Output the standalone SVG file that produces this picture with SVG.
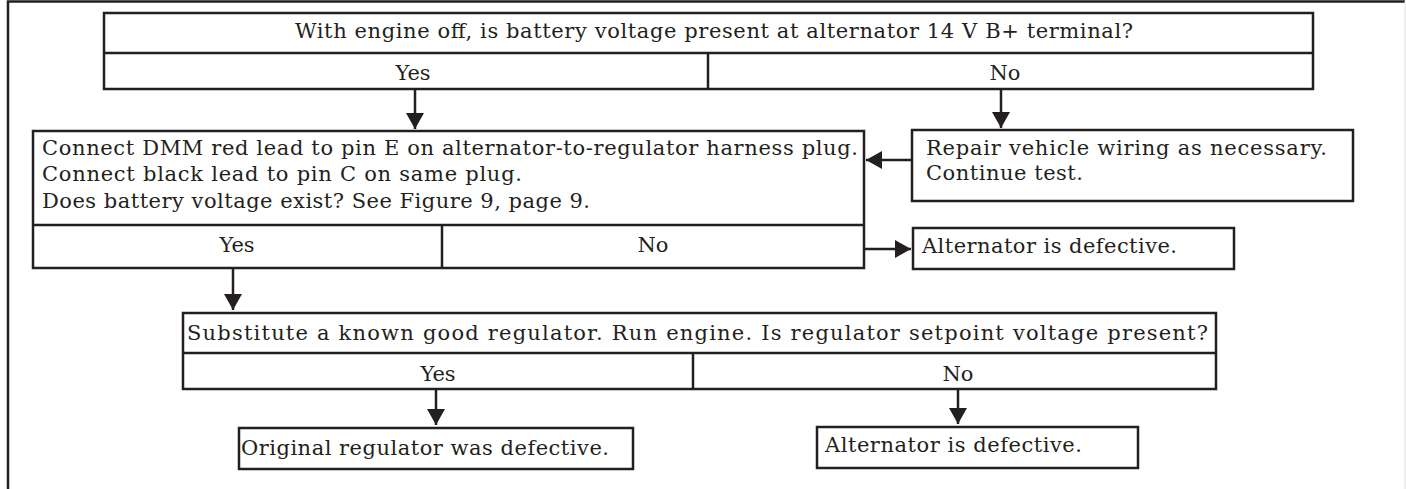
<svg xmlns="http://www.w3.org/2000/svg" width="1406" height="489" viewBox="0 0 1406 489">
<defs>
<style>
.box{fill:#fff;stroke:#231f20;stroke-width:2.5}
.ln{stroke:#231f20;stroke-width:2.5;fill:none}
.t{font-family:"DejaVu Serif","Liberation Serif",serif;font-size:21px;fill:#231f20}
.c{text-anchor:middle}
</style>
<marker id="ah" markerUnits="userSpaceOnUse" markerWidth="20" markerHeight="18" refX="16" refY="9" orient="auto">
<path d="M0,0 L16,9 L0,18 Z" fill="#231f20"/>
</marker>
</defs>
<rect width="1406" height="489" fill="#fff"/>
<g id="frame">
<path d="M8,489 L8,1.5 L1405,1.5" class="ln" stroke-width="2.5"/>
<line x1="1405" y1="1" x2="1405" y2="489" stroke="#ddd" stroke-width="1"/>
</g>
<g id="q1">
<rect x="104" y="13" width="1209" height="76" class="box"/>
<line x1="104" y1="53" x2="1313" y2="53" class="ln"/>
<line x1="708" y1="53" x2="708" y2="89" class="ln"/>
<text x="295" y="38" class="t" textLength="838">With engine off, is battery voltage present at alternator 14 V B+ terminal?</text>
<text x="413" y="80" class="t c">Yes</text>
<text x="1005" y="80" class="t c">No</text>
</g>
<g id="q2">
<rect x="33" y="131" width="831" height="137" class="box"/>
<line x1="33" y1="225" x2="864" y2="225" class="ln"/>
<line x1="442" y1="225" x2="442" y2="268" class="ln"/>
<text x="42" y="155" class="t" textLength="816">Connect DMM red lead to pin E on alternator-to-regulator harness plug.</text>
<text x="42" y="181" class="t" textLength="480">Connect black lead to pin C on same plug.</text>
<text x="42" y="208" class="t" textLength="548">Does battery voltage exist? See Figure 9, page 9.</text>
<text x="237" y="252" class="t c">Yes</text>
<text x="653" y="252" class="t c">No</text>
</g>
<g id="repair">
<rect x="912" y="130" width="441" height="71" class="box"/>
<text x="926" y="155" class="t" textLength="401">Repair vehicle wiring as necessary.</text>
<text x="926" y="180" class="t" textLength="157">Continue test.</text>
</g>
<g id="alt1">
<rect x="913" y="228" width="321" height="41" class="box"/>
<text x="922" y="253" class="t" textLength="255">Alternator is defective.</text>
</g>
<g id="q3">
<rect x="183" y="313" width="1033" height="76" class="box"/>
<line x1="183" y1="353" x2="1216" y2="353" class="ln"/>
<line x1="693" y1="353" x2="693" y2="389" class="ln"/>
<text x="187" y="340" class="t" textLength="1021">Substitute a known good regulator. Run engine. Is regulator setpoint voltage present?</text>
<text x="438" y="381" class="t c">Yes</text>
<text x="958" y="381" class="t c">No</text>
</g>
<g id="orig">
<rect x="239" y="428" width="394" height="41" class="box"/>
<text x="241" y="455" class="t" textLength="368">Original regulator was defective.</text>
</g>
<g id="alt2">
<rect x="817" y="427" width="321" height="41" class="box"/>
<text x="825" y="452" class="t" textLength="257">Alternator is defective.</text>
</g>
<g id="connectors">
<line x1="415" y1="89" x2="415" y2="129" class="ln" marker-end="url(#ah)"/>
<line x1="1001" y1="89" x2="1001" y2="128" class="ln" marker-end="url(#ah)"/>
<line x1="912" y1="160" x2="866" y2="160" class="ln" marker-end="url(#ah)"/>
<line x1="864" y1="249" x2="911" y2="249" class="ln" marker-end="url(#ah)"/>
<line x1="233" y1="268" x2="233" y2="310" class="ln" marker-end="url(#ah)"/>
<line x1="436" y1="389" x2="436" y2="425" class="ln" marker-end="url(#ah)"/>
<line x1="958" y1="389" x2="958" y2="424" class="ln" marker-end="url(#ah)"/>
</g>
</svg>
